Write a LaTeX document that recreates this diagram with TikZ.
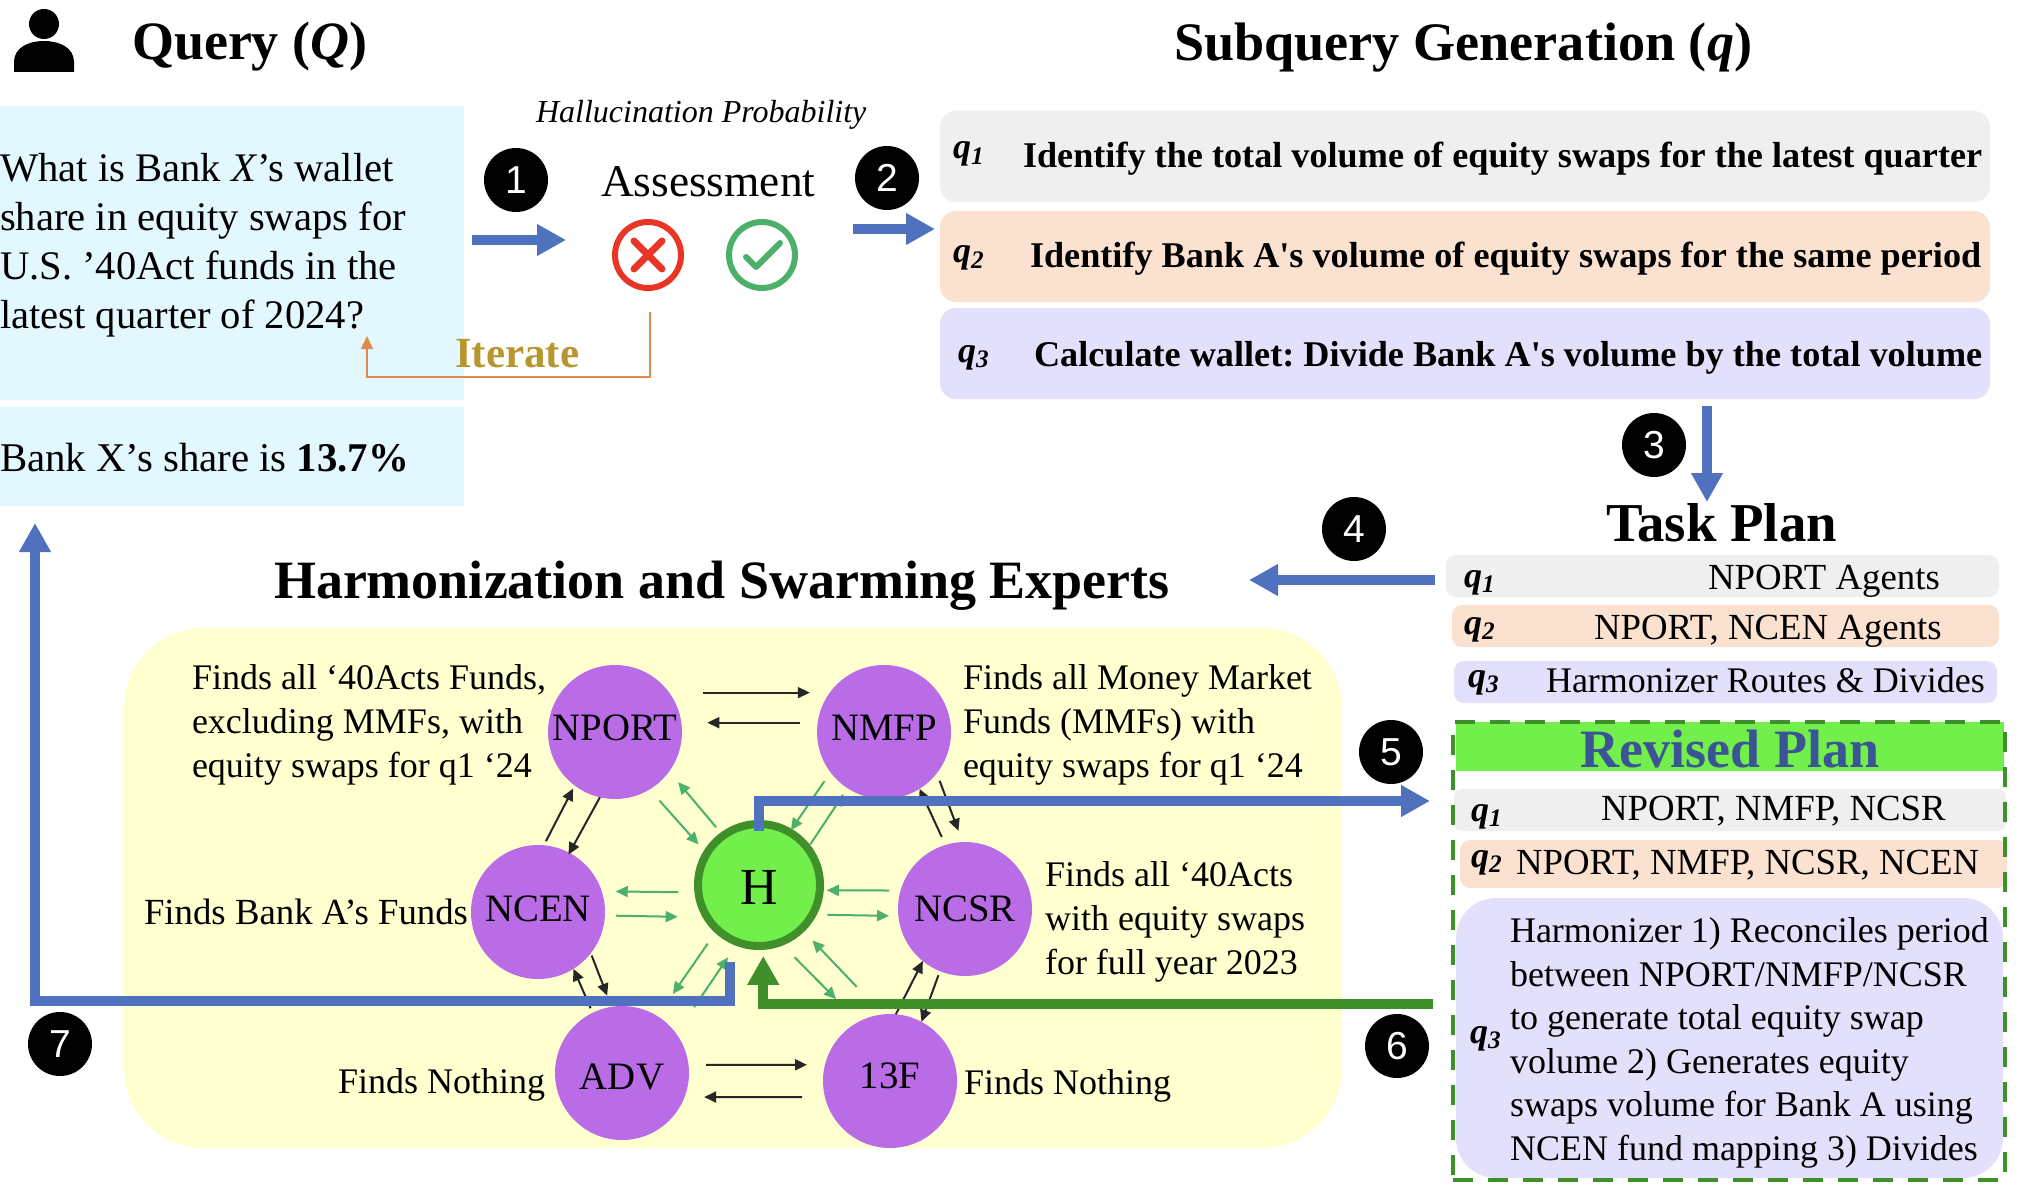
\documentclass[tikz,border=0pt]{standalone}
\usepackage{fontspec}
\setmainfont{Liberation Serif}
\setsansfont{Liberation Sans}
\usetikzlibrary{arrows.meta,calc}
\definecolor{flowblue}{HTML}{4F71BE}
\definecolor{darkgreen}{HTML}{3F8F2B}
\definecolor{limefill}{HTML}{72EF4A}
\definecolor{agentpurple}{HTML}{B96CE6}
\definecolor{queryblue}{HTML}{E2F7FE}
\definecolor{qgray}{HTML}{EFEFEF}
\definecolor{qpeach}{HTML}{FBE2D0}
\definecolor{qlavender}{HTML}{E3E0FB}
\definecolor{swarmyellow}{HTML}{FFFFD0}
\definecolor{softgreen}{HTML}{4CAF6A}
\definecolor{crossred}{HTML}{E83525}
\definecolor{iterorange}{HTML}{E08A4E}
\definecolor{itergold}{HTML}{B8962E}
\definecolor{revisedtext}{HTML}{3B5496}
\newcommand{\qtag}[1]{\textbf{\textit{q}\textsubscript{\textit{#1}}}}
\newcommand{\nudge}[2]{\raisebox{#1}[\height][\depth]{#2}}
\tikzset{
  plain/.style={inner sep=0,outer sep=0},
  title/.style={plain,anchor=base west,font=\fontsize{27}{32}\selectfont\bfseries},
  body/.style={plain,font=\fontsize{18}{22}\selectfont,align=left},
  basebody/.style={body,anchor=base west},
  widebody/.style={plain,anchor=base west,font=\fontsize{18.4}{22}\selectfont},
  boldbody/.style={plain,anchor=base west,font=\fontsize{18.1}{22}\selectfont\bfseries},
  qmark/.style={plain,anchor=base west,font=\fontsize{18}{22}\selectfont},
  qbox/.style={plain,rectangle,rounded corners=8pt},
  numdot/.style={plain,circle,fill=black,text=white,minimum size=32pt,font=\fontsize{19.5}{22}\sffamily},
  agent/.style={plain,circle,fill=agentpurple,minimum size=67pt,font=\fontsize{19.4}{22}\selectfont},
  bigblue/.style={draw=flowblue,line width=5pt,-{Triangle[length=14.5pt,width=15pt]}},
  biggreen/.style={draw=darkgreen,line width=5pt,-{Triangle[length=14.5pt,width=15pt]}},
  blackflow/.style={draw=black!85,line width=1pt,-{Triangle[length=6pt,width=5.5pt]}},
  greenflow/.style={draw=softgreen,line width=1pt,-{Triangle[length=6pt,width=5.5pt]}},
  ring/.style={plain,circle,minimum size=33pt,line width=3pt},
}
\begin{document}
\frenchspacing
\begin{tikzpicture}[x=0.5pt,y=-0.5pt]
  \useasboundingbox (0,0) rectangle (2028,1198);

  \node[plain,circle,fill=black,minimum size=15pt] (userhead) at (44,24) {};
  \fill (14,72) -- (14,62) .. controls (14,48) and (28,41) .. (44,41)
    .. controls (60,41) and (74,48) .. (74,62) -- (74,72) -- cycle;
  \node[title] (querytitle) at (132,60) {Query (\textit{Q})};

  \node[plain,fill=queryblue,minimum width=232pt,minimum height=147pt] (querybox) at (232,253) {};
  \node[plain,fill=queryblue,minimum width=232pt,minimum height=49.5pt] (answerbox) at (232,456.5) {};
  \node[plain,anchor=west,align=left,font=\fontsize{20.3}{24.5}\selectfont] (querytext) at (0,245)
    {What is Bank \textit{X}’s wallet\\share in equity swaps for\\U.S. ’40Act funds in the\\latest quarter of 2024?};
  \node[plain,anchor=base west,font=\fontsize{20.4}{24}\selectfont] (answertext) at (0,471) {Bank X’s share is \textbf{13.7\%}};

  \node[plain,anchor=base west,font=\fontsize{16}{20}\selectfont\itshape] (hallutext) at (536,123) {Hallucination Probability};
  \node[plain,anchor=base west,font=\fontsize{22.7}{26}\selectfont] (assesstext) at (601,197) {Assessment};
  \node[numdot] (one) at (516,180) {1};
  \node[numdot] (two) at (887,178) {2};
  \node[ring,draw=crossred] (crossmark) at (648,255) {};
  \node[ring,draw=softgreen] (checkmark) at (762,255) {};
  \draw[crossred,line width=3.5pt,line cap=round] ($(crossmark)+(-14,-14)$) -- ($(crossmark)+(14,14)$);
  \draw[crossred,line width=3.5pt,line cap=round] ($(crossmark)+(14,-14)$) -- ($(crossmark)+(-14,14)$);
  \draw[softgreen,line width=3pt,line cap=round,line join=round] ($(checkmark)+(-16,2)$) -- ($(checkmark)+(-6,12)$) -- ($(checkmark)+(18,-12)$);

  \coordinate (onestart) at (472,240);
  \coordinate (oneend) at (566,240);
  \coordinate (twostart) at (853,229);
  \coordinate (twoend) at (935,229);
  \draw[bigblue] (onestart) -- (oneend);
  \draw[bigblue] (twostart) -- (twoend);

  \coordinate (iterstart) at (650,312);
  \coordinate (itercorner) at (367,377);
  \coordinate (iterend) at (367,336);
  \draw[iterorange,line width=0.8pt,-{Triangle[length=6.5pt,width=6pt]}] (iterstart) |- (itercorner) -- (iterend);
  \node[plain,anchor=base west,font=\fontsize{21.5}{26}\selectfont\bfseries,text=itergold] (iteratetext) at (455,367) {Iterate};

  \node[title,font=\fontsize{27.1}{32}\selectfont\bfseries] (subtitle) at (1174,61) {Subquery Generation (\textit{q})};
  \node[qbox,fill=qgray,minimum width=525pt,minimum height=45.5pt] (subone) at (1465,156.5) {};
  \node[qbox,fill=qpeach,minimum width=525pt,minimum height=45.5pt] (subtwo) at (1465,256.5) {};
  \node[qbox,fill=qlavender,minimum width=525pt,minimum height=45.5pt] (subthree) at (1465,353.5) {};
  \node[qmark] (subqone) at (953,159) {\qtag{1}};
  \node[qmark] (subqtwo) at (953,263) {\qtag{2}};
  \node[qmark] (subqthree) at (958,362) {\qtag{3}};
  \node[boldbody] (subonetext) at (1023,168) {Identify the total volume of equity swaps for the latest quarter};
  \node[boldbody] (subtwotext) at (1030,268) {Identify Bank A\textquotesingle s volume of equity swaps for the same period};
  \node[boldbody] (subthreetext) at (1034,366) {Calculate wallet: Divide Bank A\textquotesingle s volume by the total volume};

  \coordinate (threestart) at (1707,406);
  \coordinate (threeend) at (1707,502);
  \draw[bigblue] (threestart) -- (threeend);
  \node[numdot] (three) at (1654,445) {3};
  \node[title,font=\fontsize{27.4}{32}\selectfont\bfseries] (tasktitle) at (1606,541) {Task Plan};
  \node[qbox,rounded corners=5pt,fill=qgray,minimum width=276.5pt,minimum height=21pt] (taskone) at (1722.5,576) {};
  \node[qbox,rounded corners=5pt,fill=qpeach,minimum width=273.5pt,minimum height=21pt] (tasktwo) at (1725.5,626) {};
  \node[qbox,rounded corners=5pt,fill=qlavender,minimum width=271.5pt,minimum height=21pt] (taskthree) at (1725.5,682) {};
  \node[qmark] (taskqone) at (1464,587) {\qtag{1}};
  \node[qmark] (taskqtwo) at (1464,634) {\qtag{2}};
  \node[qmark] (taskqthree) at (1468,687) {\qtag{3}};
  \node[widebody] (taskonetext) at (1708,589) {NPORT Agents};
  \node[widebody] (tasktwotext) at (1594,639) {NPORT, NCEN Agents};
  \node[basebody] (taskthreetext) at (1546,692) {Harmonizer Routes \& Divides};

  \coordinate (fourstart) at (1435,580);
  \coordinate (fourend) at (1249,580);
  \draw[bigblue] (fourstart) -- (fourend);
  \node[numdot] (four) at (1354,529) {4};

  \node[title] (swarmtitle) at (274,598) {Harmonization and Swarming Experts};
  \node[plain,rectangle,rounded corners=40pt,fill=swarmyellow,minimum width=609pt,minimum height=260pt] (swarm) at (733,888) {};

  \node[agent] (nport) at (615,732) {\nudge{2pt}{NPORT}};
  \node[agent] (nmfp) at (884,732) {\nudge{2pt}{NMFP}};
  \node[agent] (ncen) at (538,912) {\nudge{1.5pt}{NCEN}};
  \node[agent] (ncsr) at (965,909) {NCSR};
  \node[agent] (adv) at (622,1073) {\nudge{-2pt}{ADV}};
  \node[agent] (thirteenf) at (890,1081) {\nudge{2.5pt}{13F}};
  \node[plain,circle,fill=limefill,draw=darkgreen,line width=4pt,minimum size=61pt,font=\fontsize{26}{30}\selectfont] (hub) at (759,885) {\nudge{-1.2pt}{H}};

  \node[body,anchor=west] (nportnote) at (192,725) {Finds all ‘40Acts Funds,\\excluding MMFs, with\\equity swaps for q1 ‘24};
  \node[body,anchor=west] (nmfpnote) at (963,725) {Finds all Money Market\\Funds (MMFs) with\\equity swaps for q1 ‘24};
  \node[body,anchor=west] (ncsrnote) at (1045,922) {Finds all ‘40Acts\\with equity swaps\\for full year 2023};
  \node[widebody] (ncennote) at (144,924) {Finds Bank A’s Funds};
  \node[basebody] (advnote) at (338,1093) {Finds Nothing};
  \node[basebody] (thirteenfnote) at (964,1094) {Finds Nothing};

  \draw[blackflow,shorten <=17pt,shorten >=10pt] (nport.36) -- (nmfp.144);
  \draw[blackflow,shorten <=9pt,shorten >=13pt] (nmfp.172) -- (nport.8);
  \draw[blackflow,shorten <=2.3pt,shorten >=1.7pt] (ncen.85) -- (nport.233);
  \draw[blackflow,shorten >=-1pt] (nport.257) -- (ncen.62);
  \draw[blackflow,shorten <=4pt,shorten >=6pt] (nmfp.-38) -- (ncsr.92);
  \draw[blackflow,shorten <=4.4pt] (ncsr.107) -- (nmfp.-58);
  \draw[blackflow,shorten <=1.2pt,shorten >=6pt] (ncen.-38) -- (adv.99);
  \draw[blackflow,shorten <=2.5pt] (adv.116) -- (ncen.-58);
  \draw[blackflow] (thirteenf.85) -- (ncsr.231);
  \draw[blackflow,shorten <=2.2pt] (ncsr.248) -- (thirteenf.62);
  \draw[blackflow,shorten <=8.8pt,shorten >=9pt] (adv.7) -- (thirteenf.166);
  \draw[blackflow,shorten <=11.5pt,shorten >=9.8pt] (thirteenf.194) -- (adv.-21);

  \draw[greenflow,shorten <=7.5pt,shorten >=6.2pt] (nport.-59) -- (hub.149);
  \draw[greenflow,shorten <=5.5pt,shorten >=7pt] (hub.126) -- (nport.-36);
  \draw[greenflow,shorten <=5.3pt,shorten >=1.2pt] (nmfp.217) -- (hub.60);
  \draw[greenflow,shorten <=2.4pt,shorten >=3.5pt] (hub.37) -- (nmfp.237);
  \draw[greenflow,shorten <=10pt,shorten >=7pt] (hub.187) -- (ncen.18);
  \draw[greenflow,shorten <=5.5pt,shorten >=14.8pt] (ncen.-3) -- (hub.212);
  \draw[greenflow,shorten <=5.8pt,shorten >=3.5pt] (ncsr.164) -- (hub.-5);
  \draw[greenflow,shorten <=7.5pt,shorten >=4.7pt] (hub.-29) -- (ncsr.186);
  \draw[greenflow,shorten <=8.5pt,shorten >=13.5pt] (hub.227) -- (adv.58);
  \draw[greenflow,shorten <=16pt,shorten >=9pt] (adv.36) -- (hub.250);
  \draw[greenflow,shorten <=10.5pt,shorten >=16pt] (hub.-70) -- (thirteenf.118);
  \draw[greenflow,shorten <=19pt,shorten >=8pt] (thirteenf.96) -- (hub.-46);

  \coordinate (fiveend) at (1430,801);
  \draw[bigblue,shorten <=-3.5pt] (hub.north) |- (fiveend);
  \node[numdot] (five) at (1391,752) {5};

  \coordinate (sixstart) at (1433,1004);
  \draw[biggreen,shorten >=5pt] (sixstart) -| (hub.-86);
  \node[numdot] (six) at (1397,1046) {6};

  \coordinate (sevenstart) at (730,962);
  \coordinate (sevencorner) at (35,1001);
  \coordinate (sevenend) at (35,523);
  \draw[bigblue] (sevenstart) |- (sevencorner) -- (sevenend);
  \node[numdot] (seven) at (60,1044) {7};

  \node[plain,fill=limefill,text=revisedtext,minimum width=274pt,minimum height=24.5pt,font=\fontsize{27}{32}\selectfont\bfseries] (revisedhead) at (1730,746.5) {\nudge{-1.2pt}{Revised Plan}};
  \node[qbox,rounded corners=4pt,fill=qgray,minimum width=276pt,minimum height=21pt] (revone) at (1730,810) {};
  \node[qbox,rounded corners=5pt,fill=qpeach,minimum width=273.5pt,minimum height=24pt] (revtwo) at (1733.5,864) {};
  \node[qbox,rounded corners=20pt,fill=qlavender,minimum width=273.5pt,minimum height=140pt] (revthree) at (1729.5,1038) {};
  \node[qmark] (revqone) at (1471,821) {\qtag{1}};
  \node[qmark] (revqtwo) at (1471,867) {\qtag{2}};
  \node[qmark] (revqthree) at (1470,1043) {\qtag{3}};
  \node[widebody] (revonetext) at (1601,820) {NPORT, NMFP, NCSR};
  \node[widebody] (revtwotext) at (1516,874) {NPORT, NMFP, NCSR, NCEN};
  \node[plain,anchor=west,align=left,font=\fontsize{18}{21.75}\selectfont] (revthreetext) at (1510,1043)
    {Harmonizer 1) Reconciles period\\between NPORT/NMFP/NCSR\\to generate total equity swap\\volume 2) Generates equity\\swaps volume for Bank A using\\NCEN fund mapping 3) Divides};
  \node[plain,draw=darkgreen,line width=2.3pt,dash pattern=on 10pt off 7.5pt,minimum width=276pt,minimum height=229pt] (revisedbox) at (1729,951) {};
\end{tikzpicture}
\end{document}
